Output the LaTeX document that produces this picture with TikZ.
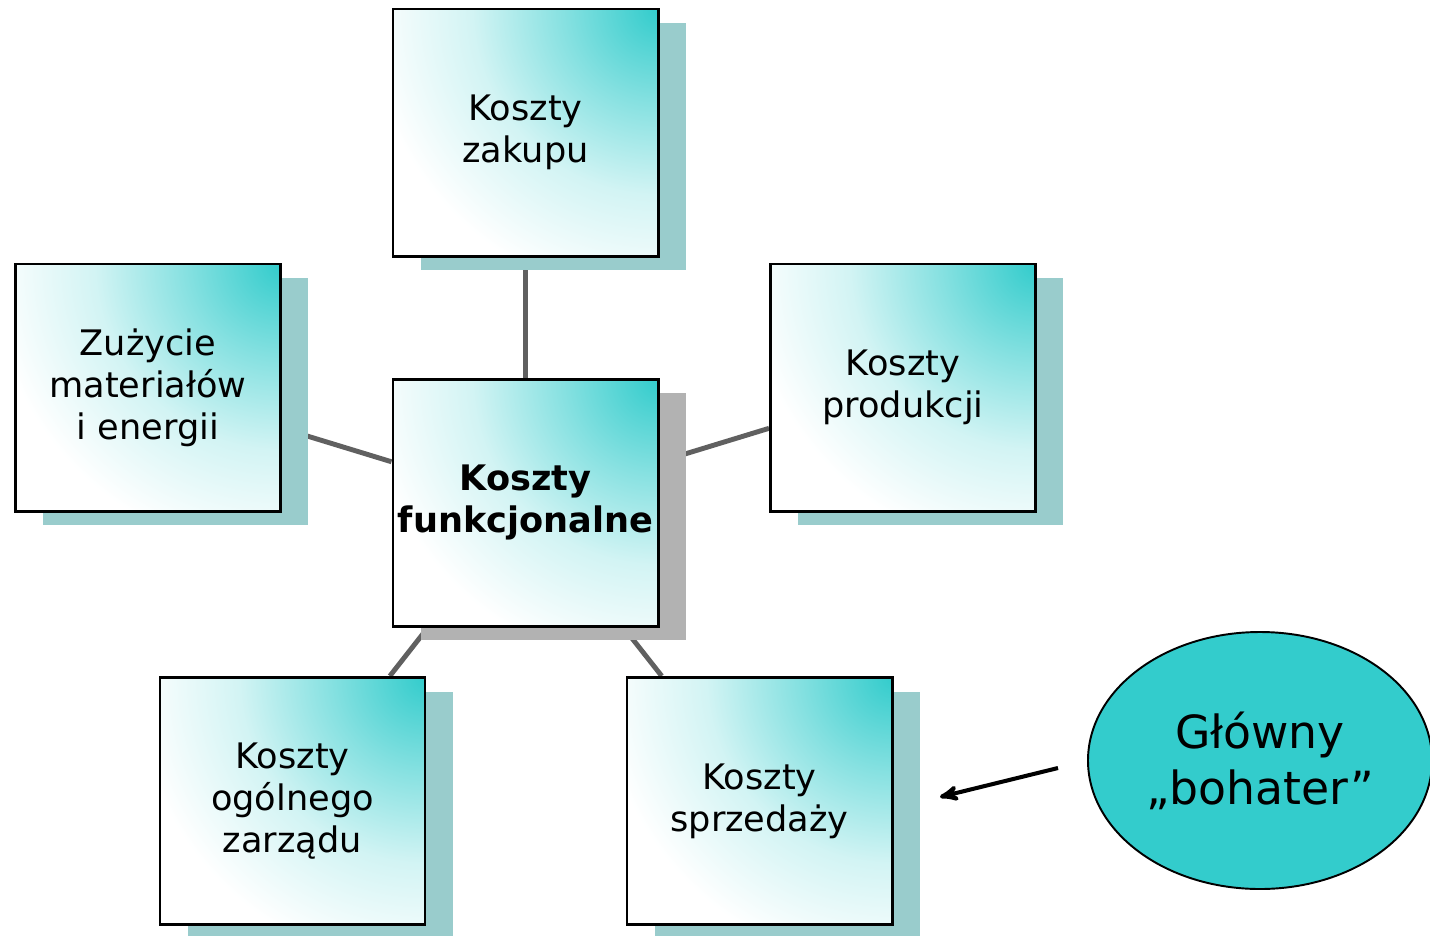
\documentclass[tikz,border=0pt]{standalone}
\usepackage{fontspec}
\setmainfont{DejaVu Sans}
\usetikzlibrary{arrows,positioning,shapes.geometric,shadows,backgrounds}
\definecolor{glow}{HTML}{33CCCC}
\definecolor{shadowteal}{HTML}{99CCCC}
\definecolor{shadowgray}{HTML}{B2B2B2}
\definecolor{spokegray}{HTML}{606060}
\pgfdeclareradialshading{glowshade}{\pgfpoint{0bp}{0bp}}{color(0bp)=(glow);
  color(8bp)=(glow!60!white); color(16bp)=(glow!22!white); color(25bp)=(white); color(50bp)=(white)}

\begin{document}
\begin{tikzpicture}[>=stealth',on grid,
  box/.style={draw=black,fill=white,line width=1.7pt,minimum width=5.3cm,minimum height=4.94cm,
    inner sep=0pt,align=center,font=\fontsize{20}{24}\selectfont,
    path picture={\shade[shading=glowshade]
      (path picture bounding box.north east) circle (5.8cm);},
    drop shadow={shadow xshift=.55cm,shadow yshift=-.28cm,fill=#1,opacity=1}},
  box/.default=shadowteal,
  hero/.style={ellipse,draw=black,line width=1.1pt,fill=glow,minimum width=6.88cm,
    minimum height=5.14cm,inner sep=0pt,align=center,font=\fontsize{26}{32}\selectfont}]
  \useasboundingbox (0,0) rectangle (28.6,-18.7);
  \node[box=shadowgray,font=\fontsize{20}{24}\selectfont\bfseries]
                   (F) at (10.51,-10.05)                    {Koszty\\funkcjonalne};
  \node[box]       (Z) [above=7.4cm of F]                   {Koszty\\zakupu};
  \node[box]       (M) [above left=2.3cm and 7.55cm of F]   {Zużycie\\materiałów\\i energii};
  \node[box]       (P) [above right=2.3cm and 7.55cm of F]  {Koszty\\produkcji};
  \node[box]       (O) [below left=5.97cm and 4.66cm of F]  {Koszty\\ogólnego\\zarządu};
  \node[box]       (S) [below right=5.97cm and 4.68cm of F] {Koszty\\sprzedaży};
  \node[hero]      (H) [above right=0.81cm and 10.01cm of S] {Główny\\„bohater”};
\begin{scope}[on background layer]
\tikzset{spoke/.style={line width=2.8pt,draw=spokegray}}
\path (F) edge [spoke] (Z)
      (F) edge [spoke] (M)
      (F) edge [spoke] (P)
      (F) edge [spoke] (O)
      (F) edge [spoke] (S);
\end{scope}
  \coordinate (tail) at (21.16,-15.36);
  \coordinate (tip)  at (18.8,-15.94);
\draw[->,line width=2.3pt] (tail) -- (tip);
\end{tikzpicture}
\end{document}
